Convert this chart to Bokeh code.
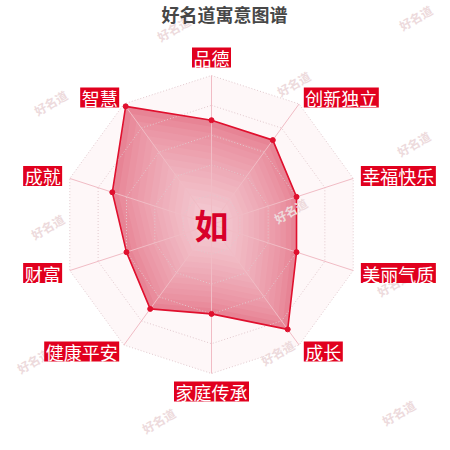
import numpy as np
from bokeh.plotting import figure
from bokeh.models import Range1d
from bokeh.core.properties import value
from bokeh.embed import file_html
from bokeh.resources import INLINE

# ---------------- data ----------------
title_text = "好名道寓意图谱"
center_char = "如"
categories = ["品德", "创新独立", "幸福快乐", "美丽气质", "成长",
              "家庭传承", "健康平安", "财富", "成就", "智慧"]
values = [70, 70, 60, 60, 87, 60, 70, 60, 70, 98]
max_value = 100
split_levels = [0.2, 0.4, 0.6, 0.8, 1.0]
watermark = "好名道"
# watermark layout (picture pixels)
wm_px = [173, 415, 50, 293, 413, 47, 290, 393, 33, 277, 158, 398]
wm_py = [28, 17, 102, 83, 143, 226, 210, 283, 360, 352, 420, 412]

# ---------------- layout ----------------
FONT = "Noto Sans CJK SC"
W = H = 450
MARGIN = 0
CX, CY, R = 211, 224, 149          # radar centre / radius in picture pixels
LABEL_R = 1.054                    # label anchor radius (unit of R)
FS = 18                            # label font size px
RED = "#e1001e"

def dx(px):  # picture pixel -> data x
    return (px - CX) / R

def dy(py):  # picture pixel -> data y
    return (CY - py) / R

p = figure(width=W, height=H, output_backend="svg", toolbar_location=None,
           x_range=Range1d(dx(MARGIN), dx(MARGIN + W)),
           y_range=Range1d(dy(MARGIN + H), dy(MARGIN)),
           min_border=0, outline_line_color=None, background_fill_color="white",
           border_fill_color="white")
p.axis.visible = False
p.grid.visible = False

n = len(categories)
ang = np.arange(n) * 2 * np.pi / n
sx, sy = np.sin(ang), np.cos(ang)

# background area
p.patch(list(sx), list(sy), fill_color="#fef7f8", line_color=None)

# data polygon with radial gradient (layered)
vals = np.array(values, dtype=float) / max_value
ks = np.linspace(1.0, 0.06, 16)
c_out = np.array([0xe7, 0x84, 0x95])
c_in = np.array([0xf5, 0xd1, 0xd8])
xs, ys, cols = [], [], []
for k in ks:
    t = (1 - k) ** 0.8
    c = c_out * (1 - t) + c_in * t
    xs.append(list(vals * sx * k))
    ys.append(list(vals * sy * k))
    cols.append("#%02x%02x%02x" % tuple(int(round(v)) for v in c))
p.patches(xs, ys, fill_color=cols, line_color=None)

# split lines (rings)
ring_x = [list(np.append(sx, sx[0]) * lv) for lv in split_levels]
ring_y = [list(np.append(sy, sy[0]) * lv) for lv in split_levels]
p.multi_line(ring_x, ring_y, line_color="#e2c9ce", line_width=1, line_dash="1 2")

# axis lines
p.segment(x0=[0] * n, y0=[0] * n, x1=list(sx), y1=list(sy),
          line_color="#f1bcc5", line_width=1)

# data outline + points
p.patch(list(vals * sx), list(vals * sy), fill_color=None,
        line_color="#e0102e", line_width=1.6)
p.scatter(list(vals * sx), list(vals * sy), size=5, color="#e0102e")

# watermarks
p.text([dx(v) for v in wm_px], [dy(v) for v in wm_py], text=[watermark] * len(wm_px),
       angle=np.pi / 6, text_font=value(FONT), text_font_size="12px",
       text_font_style="bold", text_color="#eddadc", text_align="center",
       text_baseline="middle")

# category labels with red boxes
bx, by, bw = [], [], []
bh = 20 / R
for i, name in enumerate(categories):
    ax, ay = LABEL_R * sx[i], LABEL_R * sy[i]
    w = (len(name) * FS + 3) / R
    if abs(sx[i]) < 0.25:
        cx = ax
    elif sx[i] > 0:
        cx = ax + w / 2
    else:
        cx = ax - w / 2
    if abs(sy[i]) > 0.99:
        cy = ay + bh / 2 if sy[i] > 0 else ay - bh / 2
    else:
        cy = ay
    bx.append(cx); by.append(cy); bw.append(w)
p.rect(bx, by, width=bw, height=bh, fill_color=RED, line_color=None)
p.text(bx, [v - 0.5 / R for v in by], text=categories, text_font=value(FONT),
       text_font_size=f"{FS}px", text_color="white", text_align="center",
       text_baseline="middle")

# centre character
p.text([0], [0], text=[center_char], text_font=value(FONT), text_font_size="34px",
       text_font_style="bold", text_color="#d8002a", text_align="center",
       text_baseline="middle")

# title
p.text([dx(224)], [dy(13)], text=[title_text], text_font=value(FONT),
       text_font_size="18px", text_font_style="bold", text_color="#474747",
       text_align="center", text_baseline="middle")

open("out.html", "w").write(file_html(p, INLINE))
